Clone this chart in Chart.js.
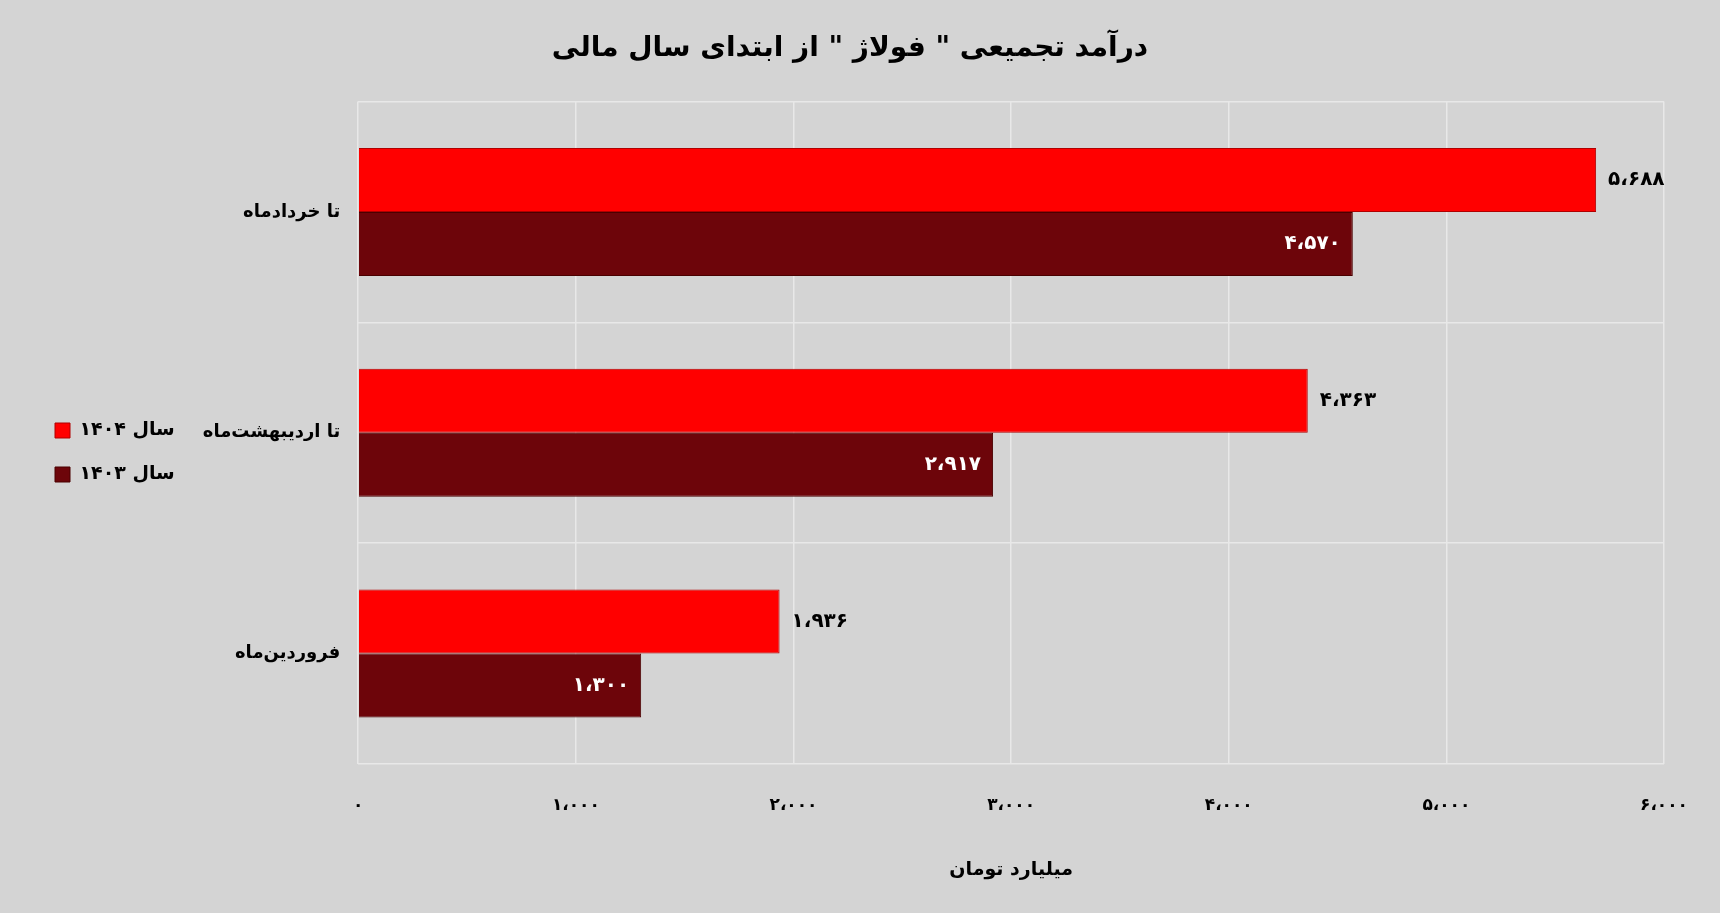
<!DOCTYPE html>
<html><head><meta charset="utf-8">
<script src="https://cdn.jsdelivr.net/npm/chart.js@4"></script>
<style>html,body{margin:0;background:#d4d4d4;}#w{width:1720px;height:913px;}</style>
</head><body><div id="w"><canvas id="c"></canvas></div>
<script>
const categories = ['تا خردادماه','تا اردیبهشت‌ماه','فروردین‌ماه'];
const values1404 = [5688, 4363, 1936];
const values1403 = [4570, 2917, 1300];
const seriesNames = ['سال ۱۴۰۴','سال ۱۴۰۳'];
const tickLabels = {0:'۰',1000:'۱،۰۰۰',2000:'۲،۰۰۰',3000:'۳،۰۰۰',4000:'۴،۰۰۰',5000:'۵،۰۰۰',6000:'۶،۰۰۰'};
const FONT = "'DejaVu Sans', sans-serif";
function fa(n){const s=String(n).replace(/\d/g,d=>'۰۱۲۳۴۵۶۷۸۹'[d]);return s.length>3?s.slice(0,s.length-3)+'،'+s.slice(-3):s;}
const labelsPlugin={id:'lbl',afterDatasetsDraw(ch){const c=ch.ctx;c.save();c.font='bold 20px '+FONT;c.textBaseline='middle';
 ch.data.datasets.forEach((ds,i)=>{ch.getDatasetMeta(i).data.forEach((el,j)=>{const t=fa(ds.data[j]);
  if(i===0){c.fillStyle='#000';c.textAlign='left';c.fillText(t,el.x+12,el.y);}
  else{c.fillStyle='#fff';c.textAlign='right';c.fillText(t,el.x-12,el.y);}});});c.restore();}};
new Chart(document.getElementById('c'),{type:'bar',
 data:{labels:categories,datasets:[
  {label:seriesNames[0],data:values1404,backgroundColor:'#ff0000',borderColor:'#b00000',borderWidth:1},
  {label:seriesNames[1],data:values1403,backgroundColor:'#6d050a',borderColor:'#4a0000',borderWidth:1}]},
 options:{indexAxis:'y',responsive:true,maintainAspectRatio:false,animation:false,
  categoryPercentage:0.58,barPercentage:1,
  layout:{padding:{top:20,right:50,bottom:28,left:30}},
  plugins:{title:{display:true,text:'درآمد تجمیعی " فولاژ " از ابتدای سال مالی',font:{family:FONT,size:28,weight:'bold'},color:'#000',padding:{top:12,bottom:36}},
   legend:{position:'left',labels:{font:{family:FONT,size:19,weight:'bold'},color:'#000',boxWidth:15,boxHeight:15,padding:25}},tooltip:{enabled:false}},
  scales:{x:{min:0,max:6000,ticks:{stepSize:1000,callback:v=>tickLabels[v],font:{family:FONT,size:17,weight:'bold'},color:'#000',padding:32},
    grid:{color:'#e8e8e8',lineWidth:1.5,drawTicks:false},border:{display:false},
    title:{display:true,text:'میلیارد تومان',font:{family:FONT,size:19,weight:'bold'},color:'#000',padding:{top:10}}},
   y:{ticks:{font:{family:FONT,size:18,weight:'bold'},color:'#000',padding:18},grid:{color:'#e8e8e8',lineWidth:1.5,drawTicks:false},border:{display:false}}}},
 plugins:[labelsPlugin]});
</script></body></html>
